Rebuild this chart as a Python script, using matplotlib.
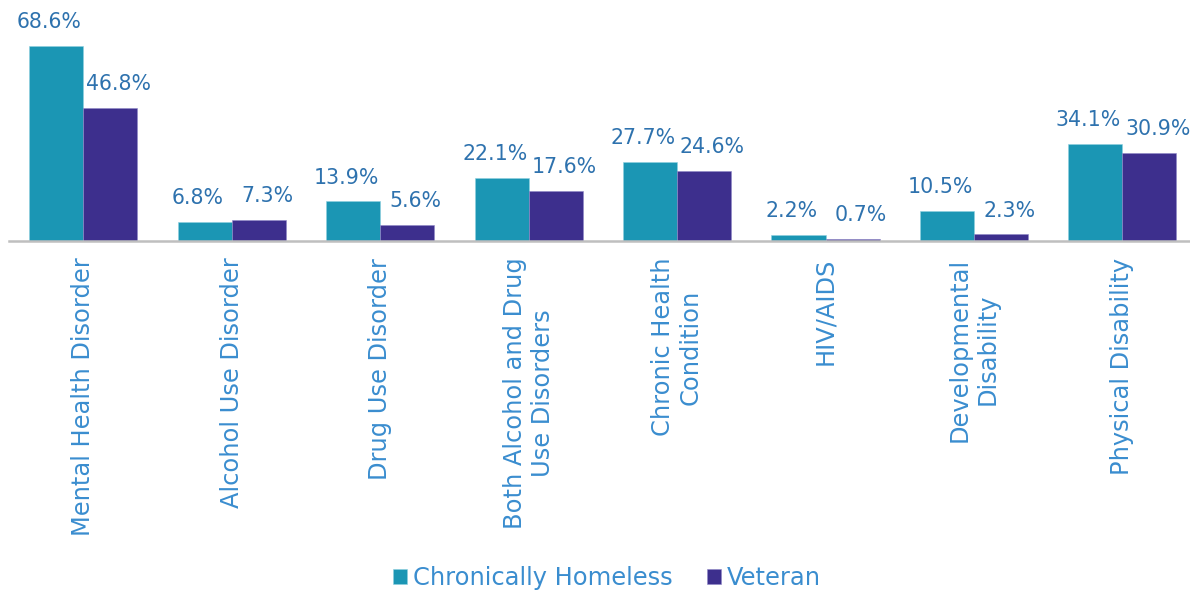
import matplotlib
matplotlib.use("Agg")
import matplotlib.pyplot as plt
import numpy as np

categories = ["Mental Health Disorder", "Alcohol Use Disorder", "Drug Use Disorder",
              "Both Alcohol and Drug\nUse Disorders", "Chronic Health\nCondition",
              "HIV/AIDS", "Developmental\nDisability", "Physical Disability"]
chronically_homeless = [68.6, 6.8, 13.9, 22.1, 27.7, 2.2, 10.5, 34.1]
veteran = [46.8, 7.3, 5.6, 17.6, 24.6, 0.7, 2.3, 30.9]
series_names = ["Chronically Homeless", "Veteran"]

TEAL = "#1B96B4"
PURPLE = "#3D2F8D"
LABEL_C = "#2E72AE"
TICK_C = "#3A8DCF"
FONT = "DejaVu Sans"

fig = plt.figure(figsize=(11.9, 5.92), dpi=100)
ax = fig.add_axes([9/1190, (592-241)/592, 1 - 9/1190, 241/592])

x = np.arange(len(categories))
w = 0.364
b1 = ax.bar(x - w/2, chronically_homeless, w, color=TEAL, label=series_names[0],
            edgecolor="#8fd0e0", linewidth=0.4)
b2 = ax.bar(x + w/2, veteran, w, color=PURPLE, label=series_names[1],
            edgecolor="#8f88c8", linewidth=0.4)

for rect, v in zip(b1, chronically_homeless):
    ax.annotate(f"{v:.1f}%", (rect.get_x() + rect.get_width()/2, rect.get_height()),
                xytext=(-5, 10), textcoords="offset points", ha="center", va="bottom",
                fontsize=14.8, color=LABEL_C, family=FONT)
for rect, v in zip(b2, veteran):
    ax.annotate(f"{v:.1f}%", (rect.get_x() + rect.get_width()/2, rect.get_height()),
                xytext=(6, 10), textcoords="offset points", ha="center", va="bottom",
                fontsize=14.8, color=LABEL_C, family=FONT)

ax.set_xlim(-0.5, 7.455)
ax.set_ylim(0, 84.8)
ax.set_yticks([])
ax.set_xticks(x)
ax.set_xticklabels(categories, rotation=90, fontsize=17.4, color=TICK_C, family=FONT,
                   ha="center", va="top", multialignment="center")
ax.tick_params(axis="x", length=0, pad=12)
for s in ["top", "right", "left"]:
    ax.spines[s].set_visible(False)
ax.spines["bottom"].set_color("#BFBFBF")
ax.spines["bottom"].set_linewidth(1.8)

leg = fig.legend(handles=[b1, b2], labels=series_names, loc="center",
                 bbox_to_anchor=(607/1190, 1 - 578/592), ncol=2, frameon=False,
                 prop={"family": FONT, "size": 17.4}, handlelength=0.58, handleheight=0.58,
                 handletextpad=0.25, columnspacing=1.4)
for t in leg.get_texts():
    t.set_color(TICK_C)

fig.savefig("out.png", dpi=100)
